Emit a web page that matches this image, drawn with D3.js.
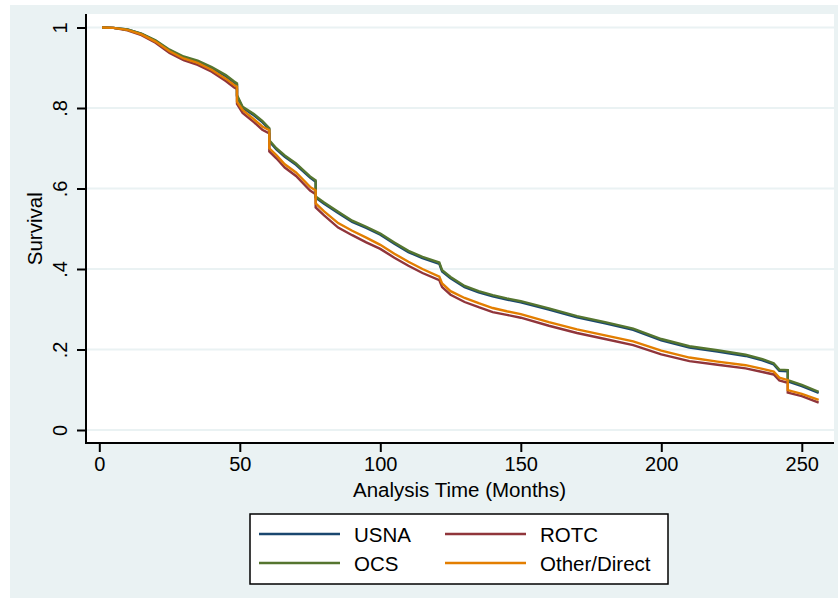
<!DOCTYPE html>
<html>
<head>
<meta charset="utf-8">
<script src="https://cdn.jsdelivr.net/npm/d3@7"></script>
<style>
  body { margin: 0; background: #fff; }
  text { font-family: "Liberation Sans", Arial, sans-serif; fill: #000; }
</style>
</head>
<body>
<script>
// months where the survival values were read (repeated month = vertical drop)
var months = [1,5,10,15,20,25,30,35,40,45,
  48,49,49,51,55,58,
  60.5,60.5,63,66,70,75,
  77,77,80,85,90,95,
  100,105,110,115,121,122,
  125,130,135,140,145,150,
  160,170,180,190,200,210,
  220,230,236,240,242,245,
  245,250,256];

var usna = [1.0,.999,.995,.984,.967,.943,.926,.915,.899,.879,
  .863,.858,.829,.800,.782,.765,
  .747,.717,.697,.679,.659,.627,
  .617,.577,.562,.539,.517,.502,
  .485,.463,.442,.427,.413,.394,
  .377,.355,.342,.332,.324,.317,
  .299,.280,.265,.249,.223,.205,
  .195,.184,.173,.163,.147,.146,
  .121,.109,.092];

var rotc = [1.0,.999,.993,.981,.962,.937,.919,.907,.890,.867,
  .851,.847,.810,.788,.765,.746,
  .737,.692,.675,.652,.631,.595,
  .586,.553,.533,.503,.484,.466,
  .450,.428,.408,.390,.372,.355,
  .336,.318,.305,.293,.286,.279,
  .259,.241,.226,.211,.188,.171,
  .162,.153,.144,.138,.123,.117,
  .093,.084,.068];

var ocs = [1.0,.999,.995,.985,.968,.945,.928,.918,.902,.882,
  .866,.861,.832,.803,.785,.768,
  .750,.720,.700,.682,.662,.630,
  .620,.580,.565,.542,.520,.505,
  .488,.466,.445,.430,.416,.397,
  .380,.358,.345,.335,.327,.320,
  .302,.283,.268,.252,.226,.208,
  .198,.187,.176,.166,.150,.149,
  .124,.112,.095];

var other = [1.0,.999,.994,.983,.965,.941,.923,.912,.895,.873,
  .857,.853,.816,.795,.772,.754,
  .745,.700,.683,.660,.640,.604,
  .595,.563,.543,.514,.495,.478,
  .460,.438,.418,.400,.381,.364,
  .345,.328,.315,.303,.295,.288,
  .268,.250,.235,.220,.197,.180,
  .170,.161,.152,.145,.130,.124,
  .099,.090,.075];

var seriesNames = ["USNA", "ROTC", "OCS", "Other/Direct"];
var seriesColors = ["#1a476f", "#90353b", "#55752f", "#e37e00"];
var seriesValues = [usna, rotc, ocs, other];

var xTicks = [0, 50, 100, 150, 200, 250];
var yTicks = [0, .2, .4, .6, .8, 1];
var yTickLabels = ["0", ".2", ".4", ".6", ".8", "1"];

var width = 838, height = 598;
var plot = {left: 86, right: 834, top: 14, bottom: 443};

var svg = d3.select("body").append("svg")
    .attr("width", width).attr("height", height);

// outer graph region
svg.append("rect").attr("x", 10).attr("y", 5)
    .attr("width", width - 10).attr("height", height - 5)
    .attr("fill", "#eaf2f3");

svg.append("rect").attr("x", plot.left).attr("y", plot.top)
    .attr("width", plot.right - plot.left).attr("height", plot.bottom - plot.top)
    .attr("fill", "#fff");

var x = d3.scaleLinear().domain([0, 250]).range([99.3, 801.8]);
var y = d3.scaleLinear().domain([0, 1]).range([430, 27.5]);

// gridlines
svg.append("g").selectAll("line").data(yTicks).enter().append("line")
    .attr("x1", plot.left).attr("x2", plot.right)
    .attr("y1", function(d){ return y(d); })
    .attr("y2", function(d){ return y(d); })
    .attr("stroke", "#eaf2f3").attr("stroke-width", 2);

// curves
var line = d3.line()
    .x(function(d){ return x(d[0]); })
    .y(function(d){ return y(d[1]); });

seriesValues.forEach(function(vals, i) {
  var pts = months.map(function(m, j){ return [m, vals[j]]; });
  svg.append("path").attr("d", line(pts))
      .attr("fill", "none")
      .attr("stroke", seriesColors[i])
      .attr("stroke-width", 2.4)
      .attr("stroke-linejoin", "miter");
});

// axes
var xAxis = d3.axisBottom(x).tickValues(xTicks).tickSize(9).tickPadding(5)
    .tickFormat(d3.format("d"));
var gx = svg.append("g").attr("transform", "translate(0," + plot.bottom + ")").call(xAxis);
gx.select(".domain").remove();
gx.selectAll(".tick line").attr("stroke", "#000").attr("stroke-width", 2);
gx.selectAll(".tick text").attr("font-size", 20).attr("font-family", "Liberation Sans, Arial, sans-serif");

var yAxis = d3.axisLeft(y).tickValues(yTicks).tickSize(9)
    .tickFormat(function(d, i){ return yTickLabels[i]; });
var gy = svg.append("g").attr("transform", "translate(" + plot.left + ",0)").call(yAxis);
gy.select(".domain").remove();
gy.selectAll(".tick line").attr("stroke", "#000").attr("stroke-width", 2);
gy.selectAll(".tick text")
    .attr("font-size", 20).attr("font-family", "Liberation Sans, Arial, sans-serif")
    .attr("x", null).attr("dy", null)
    .attr("text-anchor", "middle")
    .attr("transform", "translate(-19,0) rotate(-90)");

svg.append("line").attr("x1", plot.left).attr("x2", plot.right)
    .attr("y1", plot.bottom).attr("y2", plot.bottom)
    .attr("stroke", "#000").attr("stroke-width", 2);
svg.append("line").attr("x1", plot.left).attr("x2", plot.left)
    .attr("y1", plot.top).attr("y2", plot.bottom + 1)
    .attr("stroke", "#000").attr("stroke-width", 2);

// axis titles
svg.append("text").attr("x", (x(0) + x(250)) / 2 + 9).attr("y", 497)
    .attr("text-anchor", "middle").attr("font-size", 20.5)
    .text("Analysis Time (Months)");
svg.append("text")
    .attr("transform", "translate(42," + ((y(0) + y(1)) / 2) + ") rotate(-90)")
    .attr("text-anchor", "middle").attr("font-size", 20.5)
    .text("Survival");

// legend
var legend = svg.append("g");
legend.append("rect").attr("x", 250).attr("y", 514)
    .attr("width", 418).attr("height", 70)
    .attr("fill", "#fff").attr("stroke", "#000").attr("stroke-width", 1.5);

var legItems = legend.selectAll("g.item").data(seriesNames).enter().append("g")
    .attr("class", "item")
    .attr("transform", function(d, i){
      return "translate(" + (i % 2 === 0 ? 259 : 445) + "," + (i < 2 ? 534 : 563) + ")";
    });
legItems.append("line").attr("x1", 0).attr("x2", 81).attr("y1", 0).attr("y2", 0)
    .attr("stroke", function(d, i){ return seriesColors[i]; })
    .attr("stroke-width", 2.4);
legItems.append("text").attr("x", 95).attr("y", 8)
    .attr("font-size", 20.5).text(function(d){ return d; });
</script>
</body>
</html>
